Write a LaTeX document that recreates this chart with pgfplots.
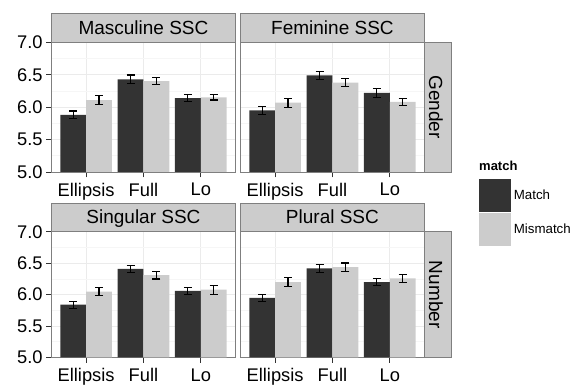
\documentclass[border=0pt]{standalone}
\usepackage{fontspec}
\setmainfont{Liberation Sans}
\usepackage{pgfplots}
\usepackage{pgfplotstable}
\pgfplotsset{compat=1.18}

\definecolor{cmatch}{HTML}{333333}
\definecolor{cmis}{HTML}{CCCCCC}
\definecolor{border}{HTML}{7F7F7F}
\definecolor{gridmaj}{HTML}{EBEBEB}
\definecolor{gridmin}{HTML}{F6F6F6}
\definecolor{tickc}{HTML}{333333}

\pgfplotstableread{
x m me mm mme
1 5.88 0.060 6.11 0.065
2 6.43 0.065 6.40 0.055
3 6.14 0.055 6.15 0.040
}\masc
\pgfplotstableread{
x m me mm mme
1 5.95 0.060 6.07 0.070
2 6.49 0.060 6.38 0.055
3 6.22 0.065 6.08 0.060
}\femi
\pgfplotstableread{
x m me mm mme
1 5.84 0.055 6.05 0.060
2 6.41 0.060 6.31 0.060
3 6.06 0.060 6.08 0.070
}\sing
\pgfplotstableread{
x m me mm mme
1 5.95 0.060 6.20 0.070
2 6.42 0.065 6.44 0.065
3 6.20 0.060 6.26 0.060
}\plur

\pgfplotsset{
  ybar legend/.style={/pgfplots/legend image code/.code={\fill[##1,draw=none] (0pt,-16.4pt) rectangle (32pt,16.4pt);}},
  panel/.style={
    scale only axis, width=183.5pt, anchor=north west,
    xmin=0.4, xmax=3.6, ymin=5, ymax=7,
    ybar, bar width=0.45,
    xtick={1,2,3}, xticklabels={Ellipsis,Full,Lo},
    ytick={5,5.5,6,6.5,7},
    minor ytick={5.25,5.75,6.25,6.75},
    grid=both,
    major grid style={gridmaj, line width=0.9pt},
    minor grid style={gridmin, line width=0.6pt},
    axis line style={border, line width=0.8pt},
    tick align=outside, tick pos=left,
    major tick length=5.5pt, minor tick length=0pt,
    tick style={tickc, line width=0.8pt},
    ticklabel style={font=\fontsize{18.3}{20}\selectfont, black},
    xticklabel style={yshift=-2pt},
    /pgf/number format/assume math mode=true,
    clip mode=individual,
    error bars/y dir=both, error bars/y explicit,
    error bars/error bar style={black, solid, line width=1.1pt},
    error bars/error mark options={black, solid, line width=1.1pt, mark size=4pt, rotate=90},
  },
  leftpanel/.style={yticklabels={5.0,5.5,6.0,6.5,7.0}},
  rightpanel/.style={yticklabels={}, ytick style={draw=none}},
  topstrip/.style={extra description/.append code={
    \draw[fill=cmis, draw=border, line width=0.8pt] (axis description cs:0,1) rectangle ([yshift=28.7pt]axis description cs:1,1);
    \node[anchor=base, font=\fontsize{19}{22}\selectfont, inner sep=0pt] at ([yshift=8pt]axis description cs:0.5,1) {#1};
  }},
  rightstrip/.style={extra description/.append code={
    \draw[fill=cmis, draw=border, line width=0.8pt] (axis description cs:1,0) rectangle ([xshift=27.4pt]axis description cs:1,1);
    \node[anchor=base, rotate=-90, font=\fontsize{19}{22}\selectfont, inner sep=0pt] at ([xshift=5pt]axis description cs:1,0.5) {#1};
  }},
}

\begin{document}
\begin{tikzpicture}
\path[use as bounding box] (0,0) rectangle (574pt,386pt);

% top-left
\begin{axis}[panel, leftpanel, topstrip={Masculine SSC}, height=129.7pt, at={(51.7pt,343.7pt)}]
\addplot[fill=cmatch, draw=none, bar shift=-0.225] table[x=x, y=m, y error=me] {\masc};
\addplot[fill=cmis, draw=none, bar shift=0.225] table[x=x, y=mm, y error=mme] {\masc};
\end{axis}

% top-right
\begin{axis}[panel, rightpanel, topstrip={Feminine SSC}, rightstrip={Gender}, height=129.7pt, at={(240.7pt,343.7pt)},
  legend style={at={(axis description cs:1.298,-0.054)}, anchor=north west, draw=none, fill=none,
    inner sep=0pt, outer sep=0pt, row sep=1pt, column sep=3pt,
    nodes={inner sep=0pt, font=\fontsize{13.3}{15}\selectfont}},
  legend cell align=left]
\addplot[fill=cmatch, draw=none, bar shift=-0.225] table[x=x, y=m, y error=me] {\femi};
\addlegendentry{Match}
\addplot[fill=cmis, draw=none, bar shift=0.225] table[x=x, y=mm, y error=mme] {\femi};
\addlegendentry{Mismatch}
\end{axis}

% bottom-left
\begin{axis}[panel, leftpanel, topstrip={Singular SSC}, height=125.6pt, at={(51.7pt,154.1pt)}]
\addplot[fill=cmatch, draw=none, bar shift=-0.225] table[x=x, y=m, y error=me] {\sing};
\addplot[fill=cmis, draw=none, bar shift=0.225] table[x=x, y=mm, y error=mme] {\sing};
\end{axis}

% bottom-right
\begin{axis}[panel, rightpanel, topstrip={Plural SSC}, rightstrip={Number}, height=125.6pt, at={(240.7pt,154.1pt)}]
\addplot[fill=cmatch, draw=none, bar shift=-0.225] table[x=x, y=m, y error=me] {\plur};
\addplot[fill=cmis, draw=none, bar shift=0.225] table[x=x, y=mm, y error=mme] {\plur};
\end{axis}

\node[anchor=base west, font=\bfseries\fontsize{13}{15}\selectfont, inner sep=0pt] at (479pt,215pt) {match};
\end{tikzpicture}
\end{document}
